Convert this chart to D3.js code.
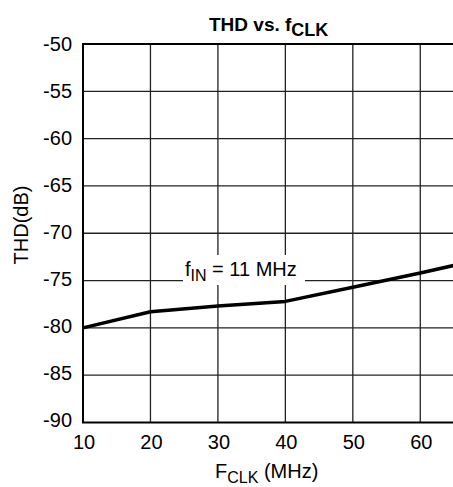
<!DOCTYPE html>
<html><head><meta charset="utf-8">
<script src="https://cdn.jsdelivr.net/npm/d3@7"></script>
<style>body{margin:0;background:#fff}svg{display:block}text{font-family:"Liberation Sans",Arial,sans-serif;fill:#000}</style>
</head><body>
<svg id="c" width="453" height="487"></svg>
<script>
const fclk = [10, 20, 30, 40, 50, 60, 65];
const thd = [-80, -78.3, -77.7, -77.2, -75.7, -74.2, -73.4];
const xTicks = [10, 20, 30, 40, 50, 60];
const yTicks = [-50, -55, -60, -65, -70, -75, -80, -85, -90];

const svg = d3.select("#c");
const L = 83, R = 454, T = 44, B = 422.5;
const x = d3.scaleLinear().domain([10, 65]).range([L, R]);
const y = d3.scaleLinear().domain([-90, -50]).range([B, T]);
const yLab = d3.scaleLinear().domain([-90, -50]).range([427, 51]);

// grid
svg.append("g").selectAll("line").data(xTicks.slice(1)).join("line")
  .attr("x1", d => x(d)).attr("x2", d => x(d)).attr("y1", T).attr("y2", B)
  .attr("stroke", "#222").attr("stroke-width", 1.3);
svg.append("g").selectAll("line").data(yTicks.slice(1, -1)).join("line")
  .attr("x1", L).attr("x2", R).attr("y1", d => y(d)).attr("y2", d => y(d))
  .attr("stroke", "#222").attr("stroke-width", 1.3);

// border
svg.append("path").attr("d", `M${R},${T}H${L}V${B}H${R}`)
  .attr("fill", "none").attr("stroke", "#000").attr("stroke-width", 2);

// y tick labels
svg.append("g").selectAll("text").data(yTicks).join("text")
  .attr("x", 72).attr("y", d => yLab(d))
  .attr("text-anchor", "end").attr("font-size", 20).text(d => d);
// x tick labels
svg.append("g").selectAll("text").data(xTicks).join("text")
  .attr("x", d => x(d) + 1).attr("y", 449)
  .attr("text-anchor", "middle").attr("font-size", 20).text(d => d);

// label box
svg.append("rect").attr("x", 183).attr("y", 255).attr("width", 122).attr("height", 30).attr("fill", "#fff");
const lab = svg.append("text").attr("x", 185).attr("y", 276).attr("font-size", 20);
lab.append("tspan").text("f");
lab.append("tspan").attr("font-size", 16).attr("dy", 5).text("IN");
lab.append("tspan").attr("dy", -5).text(" = 11 MHz");

// data line
svg.append("path").datum(fclk.map((f, i) => [f, thd[i]]))
  .attr("d", d3.line().x(d => x(d[0])).y(d => y(d[1])))
  .attr("fill", "none").attr("stroke", "#000").attr("stroke-width", 3.5)
  .attr("stroke-linejoin", "round");

// title
const t = svg.append("text").attr("x", 209).attr("y", 31).attr("font-size", 19).attr("font-weight", "bold");
t.append("tspan").text("THD vs. f");
t.append("tspan").attr("font-size", 18).attr("dy", 5).text("CLK");

// axis titles
const xt = svg.append("text").attr("x", 215).attr("y", 478).attr("font-size", 20);
xt.append("tspan").text("F");
xt.append("tspan").attr("font-size", 16).attr("dy", 5).text("CLK");
xt.append("tspan").attr("dy", -5).text(" (MHz)");

svg.append("text").attr("transform", "translate(28,225) rotate(-90)")
  .attr("text-anchor", "middle").attr("font-size", 20).text("THD(dB)");
</script>
</body></html>
